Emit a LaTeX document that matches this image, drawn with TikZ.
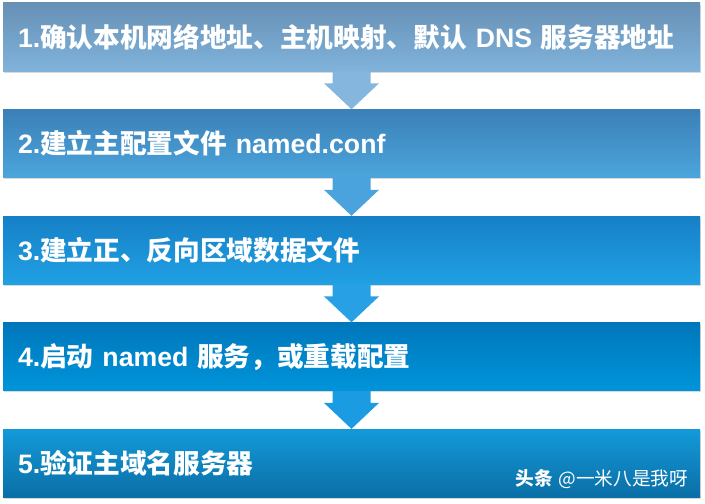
\documentclass[tikz,border=0pt]{standalone}
\usepackage{fontspec}
\setmainfont{Liberation Sans}
\newfontfamily\cjk{Noto Sans CJK SC}
\usetikzlibrary{positioning,shadows}

\newcommand\zh[1]{{\cjk #1}}

\definecolor{boxAtop}{HTML}{6790B5}\definecolor{boxAbot}{HTML}{80B3DB}
\definecolor{boxBtop}{HTML}{3B80B7}\definecolor{boxBbot}{HTML}{4BA5DC}
\definecolor{boxCtop}{HTML}{1680C6}\definecolor{boxCbot}{HTML}{21A0E4}
\definecolor{boxDtop}{HTML}{0077BB}\definecolor{boxDbot}{HTML}{0094DA}
\definecolor{boxEtop}{HTML}{149AD9}\definecolor{boxEbot}{HTML}{0A6EA6}
\definecolor{arrA}{HTML}{84B6DE}
\definecolor{arrB}{HTML}{4AA3DC}
\definecolor{arrC}{HTML}{27A0E6}
\definecolor{arrD}{HTML}{1A9BE2}

\begin{document}
\begin{tikzpicture}[x=0.75pt,y=0.75pt,
  stepbox/.style={rectangle, minimum width=522.75pt, minimum height=51pt,
    inner xsep=11.25pt, inner ysep=0pt, text width=500.25pt, align=left,
    text=white, font=\bfseries\fontsize{20}{24}\selectfont,
    drop shadow={shadow xshift=1pt, shadow yshift=-1.2pt, opacity=0.3}},
  downarrow/.style={draw=none, fill=#1},
  wmark/.style={inner sep=0pt, text=white, font=\fontsize{14}{16}\selectfont}]

  \useasboundingbox (0,0) rectangle (705,-503);

  % steps
  \node [stepbox, top color=boxAtop, bottom color=boxAbot] (s1) at (351.5,-37)
    {1.\zh{确认本机网络地址、主机映射、默认} DNS \zh{服务器地址}};
  \node [stepbox, top color=boxBtop, bottom color=boxBbot, below=28.5pt of s1] (s2)
    {2.\zh{建立主配置文件} named.conf};
  \node [stepbox, top color=boxCtop, bottom color=boxCbot, below=28.5pt of s2] (s3)
    {3.\zh{建立正、反向区域数据文件}};
  \node [stepbox, top color=boxDtop, bottom color=boxDbot, below=28.5pt of s3] (s4)
    {4.\zh{启动} named \zh{服务，或重载配置}};
  \node [stepbox, top color=boxEtop, bottom color=boxEbot, below=28.5pt of s4] (s5)
    {5.\zh{验证主域名服务器}};

  % arrows
  \fill [downarrow=arrA] ([xshift=-14.25pt]s1.south) -- ++(0,-9pt) -- ++(-6.4pt,0)
    -- (s2.north) -- ([xshift=20.65pt,yshift=-9pt]s1.south) -- ++(-6.4pt,0)
    -- ([xshift=14.25pt]s1.south) -- cycle;
  \fill [downarrow=arrB] ([xshift=-14.25pt]s2.south) -- ++(0,-9pt) -- ++(-6.4pt,0)
    -- (s3.north) -- ([xshift=20.65pt,yshift=-9pt]s2.south) -- ++(-6.4pt,0)
    -- ([xshift=14.25pt]s2.south) -- cycle;
  \fill [downarrow=arrC] ([xshift=-14.25pt]s3.south) -- ++(0,-9pt) -- ++(-6.4pt,0)
    -- (s4.north) -- ([xshift=20.65pt,yshift=-9pt]s3.south) -- ++(-6.4pt,0)
    -- ([xshift=14.25pt]s3.south) -- cycle;
  \fill [downarrow=arrD] ([xshift=-14.25pt]s4.south) -- ++(0,-9pt) -- ++(-6.4pt,0)
    -- (s5.north) -- ([xshift=20.65pt,yshift=-9pt]s4.south) -- ++(-6.4pt,0)
    -- ([xshift=14.25pt]s4.south) -- cycle;

  \node [wmark, anchor=east] (wm) at ([xshift=-9pt,yshift=13.5pt]s5.south east)
    {\zh{\bfseries 头条} \zh{@一米八是我呀}};

\end{tikzpicture}
\end{document}
